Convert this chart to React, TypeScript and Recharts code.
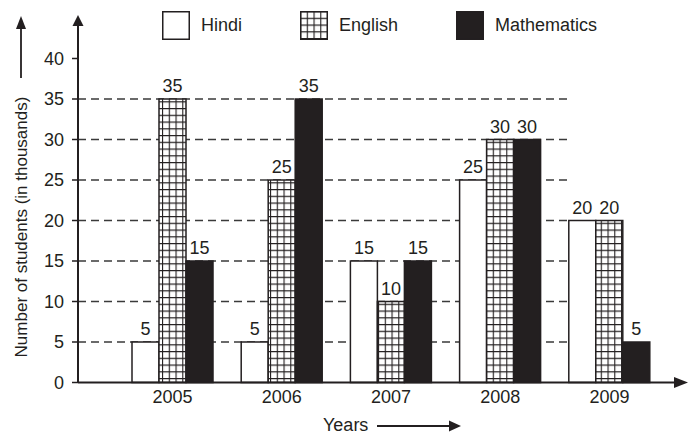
import React from 'react'
import { BarChart, Bar, XAxis, YAxis, CartesianGrid, LabelList } from 'recharts'

const years = ['2005', '2006', '2007', '2008', '2009']
const hindi = [5, 5, 15, 25, 20]
const english = [35, 25, 10, 30, 20]
const maths = [15, 35, 15, 30, 5]
const yTicks = [0, 5, 10, 15, 20, 25, 30, 35, 40]
const gridValues = [5, 10, 15, 20, 25, 30, 35]

const data = years.map((year, i) => ({ year, hindi: hindi[i], english: english[i], maths: maths[i] }))

const ink = '#231f20'
const font = '"Liberation Sans", Arial, sans-serif'
// dashed guide lines stop at the 2009 bars (fraction of plot width)
const gridExtent = 0.822

function GridPattern({ id }: { id: string }) {
  return (
    <pattern id={id} patternUnits="userSpaceOnUse" width={6.75} height={6.75}>
      <rect width={6.75} height={6.75} fill="#fff" />
      <path d="M0 0.5 H6.75 M0.5 0 V6.75" stroke={ink} strokeWidth={1.2} />
    </pattern>
  )
}

function Swatch({ fill }: { fill: string }) {
  return (
    <svg width={28} height={29} style={{ display: 'block' }}>
      <defs>
        <GridPattern id="legendGrid" />
      </defs>
      <rect x={0.75} y={0.75} width={26.5} height={27.5} fill={fill} stroke={ink} strokeWidth={1.5} />
    </svg>
  )
}

const legendItems = [
  { name: 'Hindi', fill: '#fff' },
  { name: 'English', fill: 'url(#legendGrid)' },
  { name: 'Mathematics', fill: ink },
]

const ShortGridLine = (p: any) => (
  <line
    key={p.key ?? p.y1}
    x1={p.x1}
    y1={p.y1}
    x2={p.x1 + (p.x2 - p.x1) * gridExtent}
    y2={p.y2}
    stroke="#3a3a3a"
    strokeWidth={1.5}
    strokeDasharray="8 5"
  />
)

export default function App() {
  const labelProps = { position: 'top' as const, offset: 7, fontSize: 18, fill: ink }
  return (
    <div style={{ position: 'absolute', left: 0, top: 0, width: 694, height: 435, background: '#fff', fontFamily: font, color: ink }}>
      <BarChart width={694} height={435} data={data} margin={{ top: 18, right: 19, bottom: 0, left: 0 }} barSize={27} barGap={0}>
        <defs>
          <GridPattern id="englishGrid" />
        </defs>
        <CartesianGrid vertical={false} horizontal={ShortGridLine} horizontalValues={gridValues} />
        <XAxis
          dataKey="year"
          padding={{ left: 40, right: 11 }}
          height={52.5}
          tickLine={false}
          tickSize={0}
          tickMargin={8}
          axisLine={{ stroke: ink, strokeWidth: 2 }}
          tick={{ fontSize: 18, fill: ink }}
        />
        <YAxis
          type="number"
          domain={[0, 45]}
          ticks={yTicks}
          width={78}
          tickSize={6}
          tickMargin={8}
          axisLine={{ stroke: ink, strokeWidth: 2 }}
          tickLine={{ stroke: ink, strokeWidth: 1.5 }}
          tick={{ fontSize: 18, fill: ink }}
        />
        <Bar dataKey="hindi" fill="#fff" stroke={ink} strokeWidth={1.5} isAnimationActive={false}>
          <LabelList dataKey="hindi" {...labelProps} />
        </Bar>
        <Bar dataKey="english" fill="url(#englishGrid)" stroke={ink} strokeWidth={1.5} isAnimationActive={false}>
          <LabelList dataKey="english" {...labelProps} />
        </Bar>
        <Bar dataKey="maths" fill={ink} stroke={ink} strokeWidth={1.5} isAnimationActive={false}>
          <LabelList dataKey="maths" {...labelProps} />
        </Bar>
      </BarChart>

      <div style={{ position: 'absolute', left: 162, top: 11, display: 'flex', alignItems: 'center', gap: 58, fontSize: 18 }}>
        {legendItems.map((it) => (
          <div key={it.name} style={{ display: 'flex', alignItems: 'center', gap: 11 }}>
            <Swatch fill={it.fill} />
            <span>{it.name}</span>
          </div>
        ))}
      </div>

      <svg width={694} height={435} style={{ position: 'absolute', left: 0, top: 0, pointerEvents: 'none' }}>
        <polygon points="78,15 72.5,26 83.5,26" fill={ink} />
        <polygon points="688,382.5 674,377 674,388" fill={ink} />
        <line x1={21} y1={78} x2={21} y2={26} stroke={ink} strokeWidth={1.8} />
        <polygon points="21,16 16,29 26,29" fill={ink} />
        <text x={21} y={227} fontSize={17} fill={ink} textAnchor="middle" dominantBaseline="central" transform="rotate(-90 21 227)">
          Number of students (in thousands)
        </text>
        <text x={323} y={431} fontSize={18} fill={ink}>Years</text>
        <line x1={377} y1={426} x2={452} y2={426} stroke={ink} strokeWidth={1.8} />
        <polygon points="461,426 449,420.5 449,431.5" fill={ink} />
      </svg>
    </div>
  )
}
